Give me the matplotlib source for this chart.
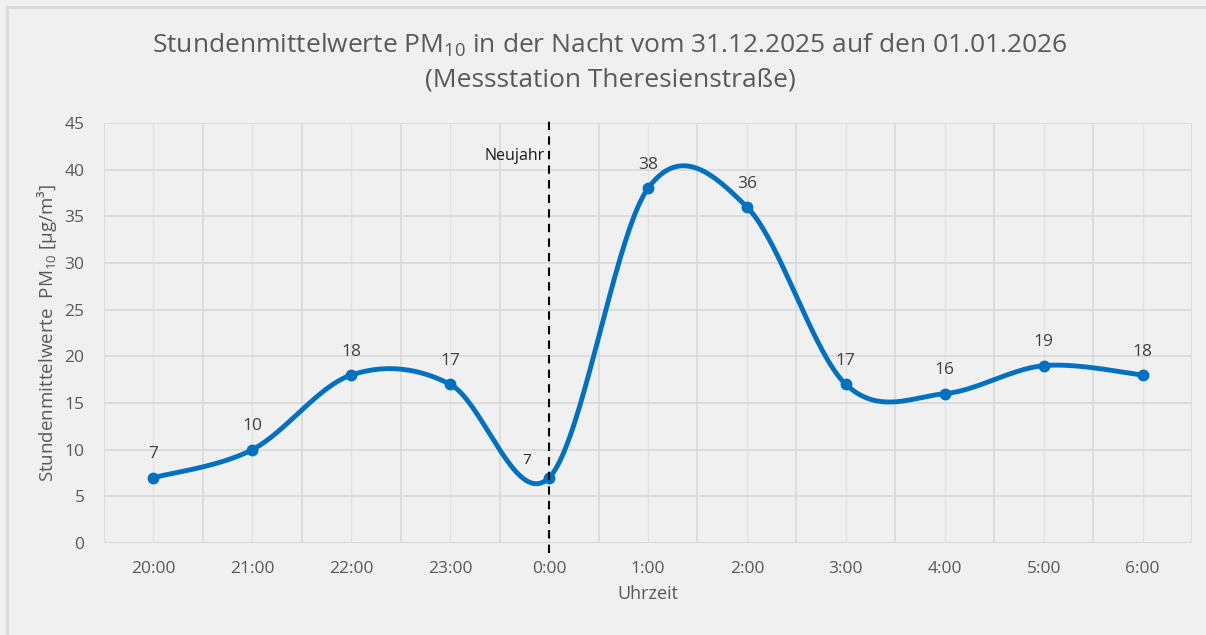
import numpy as np
import matplotlib.pyplot as plt
from matplotlib.lines import Line2D

plt.rcParams['font.family'] = ['Open Sans', 'DejaVu Sans']
plt.rcParams['mathtext.fontset'] = 'custom'
plt.rcParams['mathtext.rm'] = 'Open Sans'

uhrzeit = ['20:00', '21:00', '22:00', '23:00', '0:00', '1:00',
           '2:00', '3:00', '4:00', '5:00', '6:00']
pm10 = [7, 10, 18, 17, 7, 38, 36, 17, 16, 19, 18]
neujahr_idx = 4


def smooth_line(x, y, n=40):
    """Excel-artige Glättung (Catmull-Rom als Bezier)"""
    x = np.asarray(x, float)
    y = np.asarray(y, float)
    px = np.concatenate([[x[0]], x, [x[-1]]])
    py = np.concatenate([[y[0]], y, [y[-1]]])
    xs, ys = [], []
    t = np.linspace(0, 1, n)
    for i in range(1, len(px) - 2):
        p0 = np.array([px[i], py[i]])
        p3 = np.array([px[i + 1], py[i + 1]])
        c1 = p0 + (p3 - np.array([px[i - 1], py[i - 1]])) / 6
        c2 = p3 - (np.array([px[i + 2], py[i + 2]]) - p0) / 6
        b = ((1 - t) ** 3)[:, None] * p0 + (3 * (1 - t) ** 2 * t)[:, None] * c1 \
            + (3 * (1 - t) * t ** 2)[:, None] * c2 + (t ** 3)[:, None] * p3
        xs.extend(b[:, 0])
        ys.extend(b[:, 1])
    return np.array(xs), np.array(ys)


bg = '#f0f0f0'
grid = '#d9d9d9'
txt = '#595959'

fig = plt.figure(figsize=(12.06, 6.35), dpi=100, facecolor=bg)
ax = fig.add_axes([104 / 1206, 1 - 543 / 635, 1088 / 1206, 420 / 635])
ax.set_facecolor(bg)

x = np.arange(len(uhrzeit))
ax.set_xlim(-0.5, len(uhrzeit) - 0.5)
ax.set_ylim(0, 45)
ax.set_yticks(np.arange(0, 46, 5))
ax.set_xticks(x)
ax.set_xticklabels(uhrzeit)

# Gitter: Kategoriegrenzen und Kategoriemitten
for b in np.arange(-0.5, len(uhrzeit), 1):
    ax.axvline(b, color=grid, lw=1.2, zorder=0)
for c in x:
    ax.axvline(c, color='#e3e3e3', lw=1.0, zorder=0)
for v in np.arange(5, 46, 5):
    ax.axhline(v, color=grid, lw=1.2, zorder=0)

for s in ax.spines.values():
    s.set_visible(False)
ax.axhline(0, color=grid, lw=1.5, zorder=0)
ax.tick_params(length=0, colors=txt, labelsize=12.5, pad=13)
ax.tick_params(axis='y', pad=14)

sx, sy = smooth_line(x, pm10)
ax.plot(sx, sy, color='#0070c0', lw=3.5, solid_capstyle='round', zorder=3)
ax.plot(x, pm10, 'o', color='#0070c0', ms=7.5, zorder=4)

for i, v in enumerate(pm10):
    if i == neujahr_idx:
        ax.annotate(str(v), (i, v), xytext=(-16, 7), textcoords='offset points',
                    ha='center', va='bottom', fontsize=11, color='#262626')
    else:
        ax.annotate(str(v), (i, v), xytext=(0, 11), textcoords='offset points',
                    ha='center', va='bottom', fontsize=12.5, color='#404040')

# Neujahr-Markierung
ax.plot([neujahr_idx, neujahr_idx], [-1.1, 45.8], color='black', lw=1.5,
        ls=(0, (4, 3)), clip_on=False, zorder=5)
ax.text(neujahr_idx - 0.04, 41.5, 'Neujahr', ha='right', va='center',
        fontsize=11.5, color='#1a1a1a')

ax.set_xlabel('Uhrzeit', color=txt, fontsize=13, labelpad=6)
ax.set_ylabel(r'Stundenmittelwerte  PM$_{\mathrm{10}}$ [µg/m³]', color=txt,
              fontsize=13.5, labelpad=4)

fig.text(610 / 1206, 1 - 45 / 635,
         r'Stundenmittelwerte PM$_{\mathrm{10}}$ in der Nacht vom 31.12.2025 auf den 01.01.2026',
         ha='center', va='center', fontsize=19, color=txt)
fig.text(610 / 1206, 1 - 80 / 635, '(Messstation Theresienstraße)',
         ha='center', va='center', fontsize=19, color=txt)

# Rahmen des Diagrammbereichs
fig.add_artist(Line2D([7 / 1206, 1], [1 - 7 / 635, 1 - 7 / 635], color=grid, lw=2))
fig.add_artist(Line2D([7 / 1206, 7 / 1206], [0, 1 - 7 / 635], color=grid, lw=2))

fig.savefig('out.png', dpi=100, facecolor=bg)
